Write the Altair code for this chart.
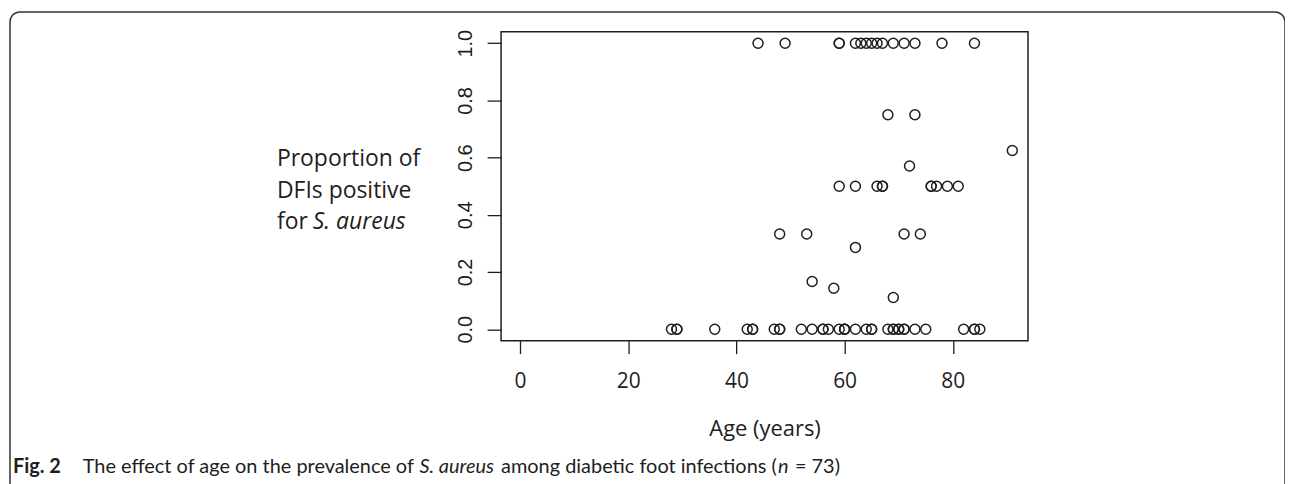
import altair as alt
import pandas as pd

# ---- data ----
ages = [
    # proportion 1.0
    44, 49, 59, 59, 62, 63, 64, 65, 66, 67, 69, 71, 73, 78, 84,
    # 0.75
    68, 73,
    # 0.625
    91,
    # 0.571
    72,
    # 0.5
    59, 62, 66, 67, 67, 76, 76, 77, 79, 81,
    # 0.333
    48, 53, 71, 74,
    # 0.286, 0.167, 0.143, 0.111
    62, 54, 58, 69,
    # 0.0
    28, 29, 29, 36, 42, 43, 43, 47, 48, 48, 52, 54, 56, 56, 57, 59, 60, 60, 60,
    62, 64, 65, 65, 68, 69, 69, 70, 70, 71, 71, 73, 75, 82, 84, 84, 85,
]
props = (
    [1.0] * 15
    + [0.75] * 2
    + [0.625]
    + [0.571]
    + [0.5] * 10
    + [0.333] * 4
    + [0.286, 0.167, 0.143, 0.111]
    + [0.0] * 36
)

x_ticks = [0, 20, 40, 60, 80]
y_ticks = [0.0, 0.2, 0.4, 0.6, 0.8, 1.0]
y_title_lines = ["Proportion of", "DFIs positive", "for"]
y_title_italic = "S. aureus"
x_title = "Age (years)"
caption_bold = "Fig. 2"
caption_parts = ["The effect of age on the prevalence of", "S. aureus",
                 "among diabetic foot infections (", "n", "= 73)"]

df = pd.DataFrame({"age": ages, "prop": props})

W, H = 529, 310
INK = "#1e1e1e"

x_scale = alt.Scale(domain=[-3.5, 93.9], nice=False, zero=False)
y_scale = alt.Scale(domain=[-0.04, 1.04], nice=False, zero=False)

points = alt.Chart(df).mark_point(
    shape="circle", filled=False, size=100, strokeWidth=1.5, color=INK, opacity=1
).encode(
    x=alt.X("age:Q", scale=x_scale, axis=alt.Axis(
        values=x_ticks, title=None, domain=False, grid=False, tickSize=13,
        tickWidth=1.3, tickColor=INK, labelFont="Open Sans", labelFontSize=21,
        labelColor=INK, labelPadding=17, format="d")),
    y=alt.Y("prop:Q", scale=y_scale, axis=alt.Axis(
        values=y_ticks, format=".1f", title=None, domain=False, grid=False,
        tickSize=14, tickWidth=1.3, tickColor=INK, labelFont="Liberation Sans",
        labelFontSize=20, labelAngle=270, labelAlign="center",
        labelBaseline="alphabetic", labelPadding=16, labelColor=INK)),
)


def txt(s, x, y, font="Open Sans", size=23, style="normal", weight="normal", align="left"):
    return alt.Chart(pd.DataFrame({"t": [s]})).mark_text(
        font=font, fontSize=size, fontStyle=style, fontWeight=weight,
        align=align, baseline="alphabetic", color=INK
    ).encode(x=alt.value(x), y=alt.value(y), text="t:N")


layers = []
# outer frame of the figure panel
frame = alt.Chart(pd.DataFrame({"a": [0]})).mark_rect(
    fillOpacity=0, stroke="#333", strokeWidth=1.5, cornerRadius=10
).encode(x=alt.value(-493), x2=alt.value(787), y=alt.value(-20), y2=alt.value(480))
layers.append(frame)
layers.append(points)
# y title (three lines, last with italic species name)
layers.append(txt(y_title_lines[0], -225, 135))
layers.append(txt(y_title_lines[1], -225, 167))
layers.append(txt(y_title_lines[2], -225, 198))
layers.append(txt(y_title_italic, -189, 198, style="italic"))
# x title
layers.append(txt(x_title, 265, 406, size=22, align="center"))
# caption
cap_y = 443
CF, CS = "Lato", 20
layers.append(txt(caption_bold, -490, cap_y, font=CF, size=CS, weight="bold"))
layers.append(txt(caption_parts[0], -420, cap_y, font=CF, size=CS))
layers.append(txt(caption_parts[1], -82, cap_y, font=CF, size=CS, style="italic"))
layers.append(txt(caption_parts[2], 0, cap_y, font=CF, size=CS))
layers.append(txt(caption_parts[3], 278, cap_y, font=CF, size=CS, style="italic"))
layers.append(txt(caption_parts[4], 295, cap_y, font=CF, size=CS))

chart = alt.layer(*layers).properties(
    width=W, height=H,
    padding={"left": 495, "top": 23, "right": 258, "bottom": 143},
    autosize=alt.AutoSizeParams(type="none"),
    background="white",
).configure_view(stroke=INK, strokeWidth=1.5)

chart.save("out.html", embed_options={"renderer": "svg", "actions": False})
